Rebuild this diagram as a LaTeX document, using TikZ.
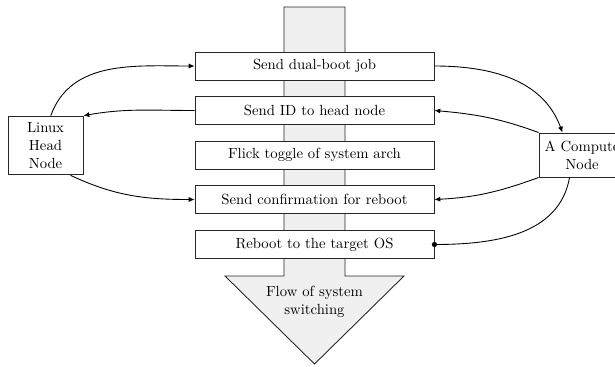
\documentclass[tikz,border=0pt]{standalone}
\usetikzlibrary{arrows.meta}
\begin{document}
\begin{tikzpicture}[x=0.68pt,y=0.68pt, font=\fontsize{10}{12}\selectfont,
  stepbox/.style={draw=black!85, fill=white, line width=0.6pt, minimum width=162.5pt, minimum height=19pt, inner sep=0pt},
  hostbox/.style={draw=black!85, fill=white, line width=0.6pt, align=center, inner sep=0pt},
  conn/.style={draw=black, line width=0.6pt, -{Latex[length=4pt,width=3.5pt]}},
  plain/.style={draw=black, line width=0.6pt}]
\useasboundingbox (0,0) rectangle (615,-366);
% big flow arrow
\path[draw=black!85, fill=black!6, line width=0.6pt]
  (284,-7) -- (345,-7) -- (345,-276) -- (404,-276) -- (314.5,-364) -- (225,-276) -- (284,-276) -- cycle;
\node[align=center] (flow) at (314.5,-302) {Flow of system\\switching};
% steps
\node[stepbox] (s1) at (314.5,-66) {Send dual-boot job};
\node[stepbox] (s2) at (314.5,-110.5) {Send ID to head node};
\node[stepbox] (s3) at (314.5,-155) {Flick toggle of system arch};
\node[stepbox] (s4) at (314.5,-199.5) {Send confirmation for reboot};
\node[stepbox] (s5) at (314.5,-244.5) {Reboot to the target OS};
% hosts
\node[hostbox, minimum width=51pt, minimum height=40pt] (linux) at (45.5,-145.5) {Linux\\Head\\Node};
\node[hostbox, minimum width=58.5pt, minimum height=30pt] (comp) at (582,-155) {A Compute\\Node};
% connectors
\draw[conn] (linux.80) to[out=70,in=180] (s1.west);
\draw[conn] (s2.west) to[out=180,in=10] (linux.north east);
\draw[conn] (linux.-50) to[out=-25,in=180] (s4.west);
\draw[conn] (s1.east) to[out=0,in=110] (comp.131);
\draw[conn] (comp.north west) to[out=160,in=-5] (s2.east);
\draw[conn] (comp.south west) to[out=200,in=3] (s4.east);
\draw[plain] (comp.-119) to[out=-100,in=0] (s5.east);
\fill (s5.east) circle (2.6);
\end{tikzpicture}
\end{document}
